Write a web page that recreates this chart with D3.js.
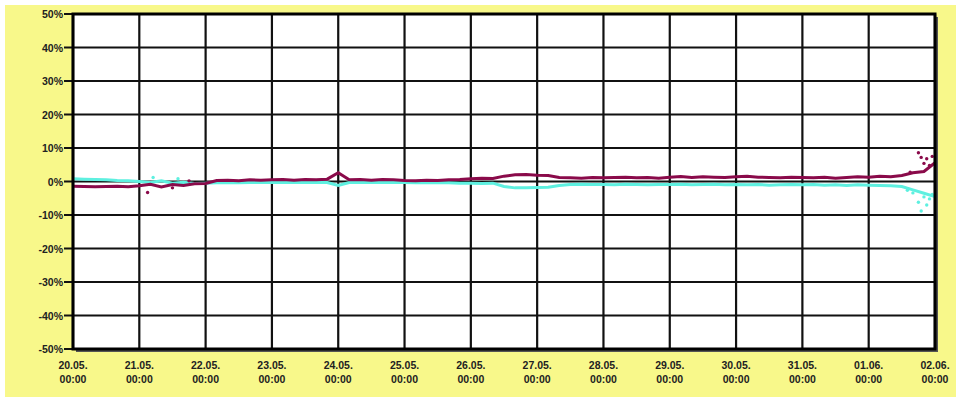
<!DOCTYPE html>
<html><head><meta charset="utf-8">
<script src="https://cdn.jsdelivr.net/npm/d3@7"></script>
<style>html,body{margin:0;padding:0;background:#fff;}svg{display:block;}</style>
</head><body>
<svg id="c" width="956" height="403"></svg>
<script>
// ---- data ----
const startDate = "2006-05-20T00:00";
const endDate = "2006-06-02T00:00";
const stepHours = 4;
const yTicks = [50, 40, 30, 20, 10, 0, -10, -20, -30, -40, -50];
const xTickDates = ["2006-05-20","2006-05-21","2006-05-22","2006-05-23","2006-05-24","2006-05-25","2006-05-26","2006-05-27","2006-05-28","2006-05-29","2006-05-30","2006-05-31","2006-06-01","2006-06-02"];
const xTickLabels = ["20.05.","21.05.","22.05.","23.05.","24.05.","25.05.","26.05.","27.05.","28.05.","29.05.","30.05.","31.05.","01.06.","02.06."];
// magenta series, every 4 hours from 20.05. 00:00
const seriesA = [
  -1.4,-1.5,-1.6,-1.5,-1.4,-1.6,
  -1.3,-0.8,-1.6,-0.9,-1.2,-0.7,
  -0.6,0.3,0.4,0.2,0.5,0.4,
  0.5,0.6,0.4,0.6,0.5,0.7,
  2.6,0.5,0.6,0.4,0.6,0.5,
  0.3,0.2,0.4,0.3,0.5,0.6,
  0.8,1.0,0.9,1.6,2.0,2.1,
  1.9,1.8,1.2,1.1,1.0,1.2,
  1.1,1.2,1.3,1.1,1.2,1.0,
  1.3,1.5,1.2,1.4,1.3,1.2,
  1.4,1.6,1.3,1.2,1.1,1.3,
  1.2,1.1,1.3,1.0,1.2,1.4,
  1.3,1.6,1.4,1.8,2.6,3.0,
  5.6
];
// cyan series, every 4 hours from 20.05. 00:00
const seriesB = [
  0.8,0.7,0.6,0.5,0.3,0.2,
  0.0,-0.3,0.2,-0.5,-0.2,-0.6,
  -0.5,-0.4,-0.3,-0.4,-0.3,-0.3,
  -0.3,-0.2,-0.3,-0.3,-0.2,-0.3,
  -1.2,-0.3,-0.2,-0.3,-0.3,-0.2,
  -0.3,-0.4,-0.3,-0.4,-0.4,-0.5,
  -0.5,-0.6,-0.5,-1.5,-1.9,-1.9,
  -1.8,-1.7,-1.2,-0.9,-0.8,-0.9,
  -0.9,-1.0,-0.8,-0.9,-1.0,-0.9,
  -0.9,-0.8,-1.0,-0.9,-0.8,-1.0,
  -0.9,-1.0,-0.9,-1.1,-1.0,-0.9,
  -1.0,-0.9,-1.1,-1.0,-1.2,-1.0,
  -1.1,-1.2,-1.3,-1.5,-2.5,-3.5,
  -4.5
];
const scatterATimes = ["2006-05-21T03:00","2006-05-21T12:00","2006-05-21T18:00","2006-06-01T15:00","2006-06-01T18:00","2006-06-01T19:00","2006-06-01T20:00","2006-06-01T21:00","2006-06-01T22:00","2006-06-01T23:00"];
const scatterAValues = [-3.3,-1.9,0.2,2.8,8.6,7.2,5.4,6.8,4.8,7.5];
const scatterBTimes = ["2006-05-21T05:00","2006-05-21T14:00","2006-06-01T14:00","2006-06-01T16:00","2006-06-01T18:00","2006-06-01T19:00","2006-06-01T20:00","2006-06-01T21:00","2006-06-01T22:00","2006-06-01T23:00"];
const scatterBValues = [1.2,0.8,-2.6,-3.4,-6.2,-8.8,-4.6,-7.0,-5.2,-3.9];

// ---- chart ----
const svg = d3.select("#c");
const W = 956, H = 403;
const M = {left: 73, right: 21, top: 14, bottom: 54};
const x = d3.scaleTime().domain([new Date(startDate), new Date(endDate)]).range([M.left, W - M.right]);
const y = d3.scaleLinear().domain([-50, 50]).range([H - M.bottom, M.top]);

svg.append("rect").attr("x", 5).attr("y", 5).attr("width", W - 5).attr("height", 392).attr("fill", "#f8f88a");
// plot area shadow
svg.append("rect").attr("x", M.left + 3).attr("y", M.top + 3)
  .attr("width", x.range()[1] - M.left).attr("height", y(-50) - y(50)).attr("fill", "#555");
svg.append("rect").attr("x", M.left).attr("y", M.top)
  .attr("width", x.range()[1] - M.left).attr("height", y(-50) - y(50)).attr("fill", "#fff");

const t0 = new Date(startDate).getTime();
const toPts = arr => arr.map((v, i) => ({t: new Date(t0 + i * stepHours * 3600e3), v}));

const font = "'Liberation Sans', Arial, sans-serif";

// grid
const g = svg.append("g");
g.selectAll("line.h").data(yTicks).join("line")
  .attr("x1", M.left - 9).attr("x2", x.range()[1])
  .attr("y1", d => y(d)).attr("y2", d => y(d))
  .attr("stroke", "#111").attr("stroke-width", 2.2);
g.selectAll("line.v").data(xTickDates).join("line")
  .attr("x1", d => x(new Date(d + "T00:00"))).attr("x2", d => x(new Date(d + "T00:00")))
  .attr("y1", M.top).attr("y2", y(-50))
  .attr("stroke", "#111").attr("stroke-width", 2.2);

// data lines
const line = d3.line().x(d => x(d.t)).y(d => y(d.v));
svg.append("path").datum(toPts(seriesB)).attr("d", line)
  .attr("fill", "none").attr("stroke", "#5ef0e0").attr("stroke-width", 3);
svg.append("path").datum(toPts(seriesA)).attr("d", line)
  .attr("fill", "none").attr("stroke", "#8a0a4a").attr("stroke-width", 3);

svg.selectAll("circle.a").data(scatterATimes.map((t, i) => ({t: new Date(t), v: scatterAValues[i]}))).join("circle")
  .attr("cx", d => x(d.t)).attr("cy", d => y(d.v)).attr("r", 1.7).attr("fill", "#8a0a4a");
svg.selectAll("circle.b").data(scatterBTimes.map((t, i) => ({t: new Date(t), v: scatterBValues[i]}))).join("circle")
  .attr("cx", d => x(d.t)).attr("cy", d => y(d.v)).attr("r", 1.7).attr("fill", "#5ef0e0");

// border
svg.append("rect").attr("x", M.left).attr("y", M.top)
  .attr("width", x.range()[1] - M.left).attr("height", y(-50) - y(50))
  .attr("fill", "none").attr("stroke", "#000").attr("stroke-width", 3);

// y labels
svg.selectAll("text.y").data(yTicks).join("text")
  .attr("x", M.left - 10).attr("y", d => y(d) + 4)
  .attr("text-anchor", "end").attr("font-family", font).attr("font-weight", "bold")
  .attr("font-size", 10.5).attr("fill", "#222").text(d => d + "%");

// x labels
const xl = svg.selectAll("g.xl").data(xTickDates).join("g")
  .attr("transform", d => `translate(${x(new Date(d + "T00:00"))},0)`);
xl.append("text").attr("y", 369).attr("text-anchor", "middle").attr("font-family", font)
  .attr("font-weight", "bold").attr("font-size", 10.5).attr("fill", "#222").text((d, i) => xTickLabels[i]);
xl.append("text").attr("y", 383).attr("text-anchor", "middle").attr("font-family", font)
  .attr("font-weight", "bold").attr("font-size", 10.5).attr("fill", "#222").text("00:00");
</script>
</body></html>
